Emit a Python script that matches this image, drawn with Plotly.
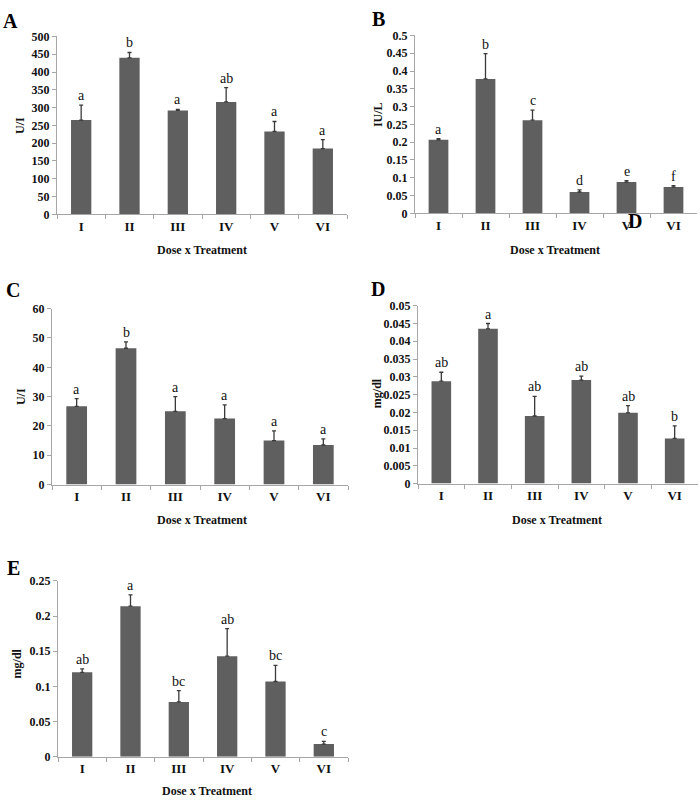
import plotly.graph_objects as go

W, H = 700, 807

categories = ["I", "II", "III", "IV", "V", "VI"]

a_mean = [265, 440, 292, 316, 233, 185]
a_err = [42, 15, 3, 40, 28, 25]
a_letters = ["a", "b", "a", "ab", "a", "a"]

b_mean = [0.207, 0.378, 0.262, 0.060, 0.088, 0.074]
b_err = [0.003, 0.071, 0.028, 0.006, 0.004, 0.004]
b_letters = ["a", "b", "c", "d", "e", "f"]

c_mean = [26.7, 46.5, 25.0, 22.5, 15.0, 13.5]
c_err = [2.6, 2.2, 5.0, 4.7, 3.3, 2.1]
c_letters = ["a", "b", "a", "a", "a", "a"]

d_mean = [0.0288, 0.0435, 0.0190, 0.0291, 0.0199, 0.0127]
d_err = [0.0025, 0.0015, 0.0055, 0.0011, 0.0020, 0.0035]
d_letters = ["ab", "a", "ab", "ab", "ab", "b"]

e_mean = [0.120, 0.214, 0.078, 0.143, 0.107, 0.018]
e_err = [0.005, 0.016, 0.016, 0.039, 0.023, 0.004]
e_letters = ["ab", "a", "bc", "ab", "bc", "c"]

FONT = "Liberation Serif"
BAR = "#5f5f5f"
AXC = "#a6a6a6"

fig = go.Figure()


def px(x):
    return x / W


def py(y):
    return 1 - y / H


panels = [
    # name, mean, err, letters, ymax, dtick, x0, x1, ytop, ybot, ytitle, ytitle pos, xtitle pos, label pos
    ("A", a_mean, a_err, a_letters, 500, 50, 57, 347, 30, 211, "U/I", (20, 121), (202, 247), (10, 14)),
    ("B", b_mean, b_err, b_letters, 0.5, 0.05, 415, 697, 29, 210, "IU/L", (378, 110), (555, 247), (378, 12)),
    ("C", c_mean, c_err, c_letters, 60, 10, 52, 348, 307, 486, "U/I", (21, 397), (202, 522), (13, 288)),
    ("D", d_mean, d_err, d_letters, 0.05, 0.005, 418, 698, 304, 485, "mg/dl", (377, 393), (557, 522), (378, 287)),
    ("E", e_mean, e_err, e_letters, 0.25, 0.05, 58, 348, 584, 763, "mg/dl", (17, 668), (207, 798), (13, 571)),
]

annotations = []
layout_axes = {}
for i, (name, mean, err, letters, ymax, dtick, x0, x1, ytop, ybot, ytitle, ytp, xtp, lp) in enumerate(panels):
    n = i + 1
    xa = "x" if n == 1 else f"x{n}"
    ya = "y" if n == 1 else f"y{n}"
    fig.add_trace(go.Bar(
        x=categories, y=mean, xaxis=xa, yaxis=ya,
        marker=dict(color=BAR, line=dict(width=0)),
        error_y=dict(type="data", symmetric=False, array=err,
                     arrayminus=[0] * len(err), color="#3a3a3a",
                     thickness=1.3, width=2),
        showlegend=False, hoverinfo="skip",
    ))
    xkey = "xaxis" if n == 1 else f"xaxis{n}"
    ykey = "yaxis" if n == 1 else f"yaxis{n}"
    layout_axes[xkey] = dict(
        domain=[px(x0), px(x1)], anchor=ya, type="category",
        showline=True, linecolor=AXC, linewidth=1,
        ticks="outside", tickson="boundaries", ticklen=4, tickcolor=AXC,
        showgrid=False, zeroline=False,
        tickfont=dict(family=FONT, size=13, color="#111", weight="bold"),
    )
    layout_axes[ykey] = dict(
        domain=[py(ybot), py(ytop)], anchor=xa, range=[0, ymax],
        dtick=dtick, tick0=0,
        showline=True, linecolor=AXC, linewidth=1,
        ticks="outside", ticklen=4, tickcolor=AXC,
        showgrid=False, zeroline=False,
        tickfont=dict(family=FONT, size=12, color="#111", weight="bold"),
    )
    # significance letters
    for c, m, e, t in zip(categories, mean, err, letters):
        annotations.append(dict(
            x=c, y=m + e, xref=xa, yref=ya, text=t, showarrow=False,
            yanchor="bottom", yshift=0,
            font=dict(family=FONT, size=14, color="#111"),
        ))
    # y title
    annotations.append(dict(
        x=px(ytp[0]), y=py(ytp[1]), xref="paper", yref="paper", text=ytitle,
        textangle=-90, showarrow=False, xanchor="center", yanchor="middle",
        font=dict(family=FONT, size=12, color="#111", weight="bold"),
    ))
    # x title
    annotations.append(dict(
        x=px(xtp[0]), y=py(xtp[1]), xref="paper", yref="paper", text="Dose x Treatment",
        showarrow=False, xanchor="center", yanchor="middle",
        font=dict(family=FONT, size=12, color="#111", weight="bold"),
    ))
    # panel label
    annotations.append(dict(
        x=px(lp[0]), y=py(lp[1]), xref="paper", yref="paper", text=name,
        showarrow=False, xanchor="center", yanchor="middle",
        font=dict(family=FONT, size=20, color="#000", weight="bold"),
    ))

# stray "D" label overlapping panel B's axis (present in the original figure)
annotations.append(dict(
    x=px(635), y=py(218), xref="paper", yref="paper", text="D",
    showarrow=False, xanchor="center", yanchor="middle",
    font=dict(family=FONT, size=20, color="#000", weight="bold"),
))

fig.update_layout(
    width=W, height=H,
    margin=dict(l=0, r=0, t=0, b=0),
    paper_bgcolor="white", plot_bgcolor="white",
    bargap=0.58,
    annotations=annotations,
    **layout_axes,
)

fig.write_html(
    "out.html",
    config={"displayModeBar": False},
    post_script="document.body.style.margin='0';document.body.style.padding='0';document.body.style.overflow='hidden';",
)
